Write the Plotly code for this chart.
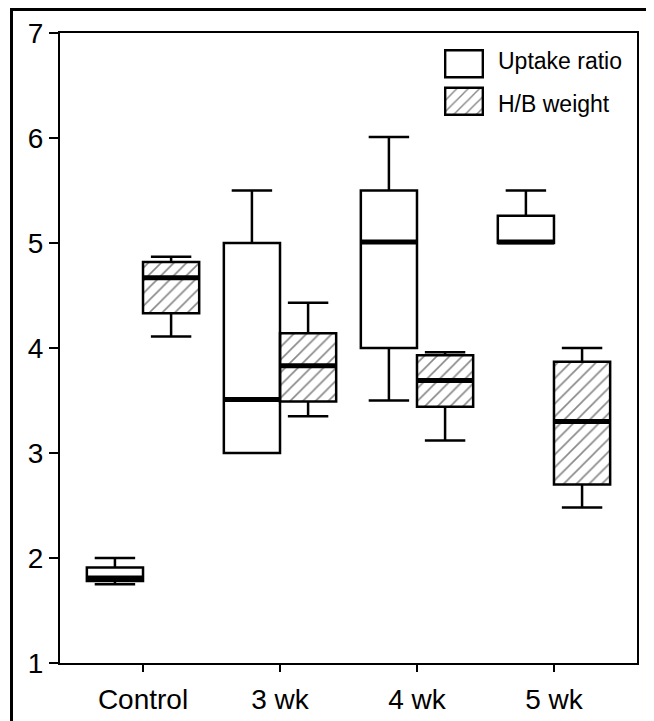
import plotly.graph_objects as go

# ---- data ----
categories = ["Control", "3 wk", "4 wk", "5 wk"]
series_names = ["Uptake ratio", "H/B weight"]

uptake_low = [1.75, 3.00, 3.50, 5.00]
uptake_q1 = [1.78, 3.00, 4.00, 5.00]
uptake_med = [1.81, 3.51, 5.01, 5.01]
uptake_q3 = [1.91, 5.00, 5.50, 5.26]
uptake_high = [2.00, 5.50, 6.01, 5.50]

hb_low = [4.11, 3.35, 3.12, 2.48]
hb_q1 = [4.33, 3.49, 3.44, 2.70]
hb_med = [4.67, 3.83, 3.69, 3.30]
hb_q3 = [4.82, 4.14, 3.93, 3.87]
hb_high = [4.87, 4.43, 3.96, 4.00]

y_ticks = [1, 2, 3, 4, 5, 6, 7]

# ---- layout constants (page has an 8px body margin) ----
PAGE_OFF = 8
W, H = 654 - PAGE_OFF, 721 - PAGE_OFF
ML, MT = 60 - PAGE_OFF, 33 - PAGE_OFF
MR = 17
MB = 58
BOXW = 0.41
OFF = BOXW / 2
FONT = "Liberation Sans, Arial, sans-serif"

idx = list(range(len(categories)))
x_up = [i - OFF for i in idx]
x_hb = [i + OFF for i in idx]

fig = go.Figure()

# hatched fill for H/B boxes (bars from q1 to q3)
fig.add_trace(go.Bar(
    x=x_hb, y=[b - a for a, b in zip(hb_q1, hb_q3)], base=hb_q1,
    width=BOXW, marker=dict(color="white", line=dict(width=0),
                            pattern=dict(shape="/", fgcolor="#111", size=9, solidity=0.18)),
    showlegend=False, hoverinfo="skip"))

box_common = dict(width=BOXW, whiskerwidth=0.72, boxpoints=False,
                  line=dict(color="black", width=2.5), showlegend=False)
fig.add_trace(go.Box(x=x_up, q1=uptake_q1, median=uptake_med, q3=uptake_q3,
                     lowerfence=uptake_low, upperfence=uptake_high,
                     fillcolor="rgba(255,255,255,0)", name=series_names[0], **box_common))
fig.add_trace(go.Box(x=x_hb, q1=hb_q1, median=hb_med, q3=hb_q3,
                     lowerfence=hb_low, upperfence=hb_high,
                     fillcolor="rgba(255,255,255,0)", name=series_names[1], **box_common))

# thick medians
def med_xy(xs, meds):
    mx, my = [], []
    for x, m in zip(xs, meds):
        mx += [x - OFF, x + OFF, None]
        my += [m, m, None]
    return mx, my

for xs, meds in ((x_up, uptake_med), (x_hb, hb_med)):
    mx, my = med_xy(xs, meds)
    fig.add_trace(go.Scatter(x=mx, y=my, mode="lines", line=dict(color="black", width=5),
                             showlegend=False, hoverinfo="skip"))

# page-pixel -> paper helpers
pw, ph = W - ML - MR, H - MT - MB
def px_x(p): return (p - PAGE_OFF - ML) / pw
def px_y(p): return (H - MB - (p - PAGE_OFF)) / ph

# legend swatches on an auxiliary axis pair
fig.add_trace(go.Bar(
    y=series_names, x=[1, 1], orientation="h", xaxis="x2", yaxis="y2",
    width=0.72,
    marker=dict(color="white", line=dict(color="black", width=2.5),
                pattern=dict(shape=["", "/"], fgcolor="#111", size=8, solidity=0.18)),
    showlegend=False, hoverinfo="skip"))

fig.update_layout(
    width=W, height=H,
    margin=dict(l=ML, r=MR, t=MT, b=MB, autoexpand=False),
    paper_bgcolor="white", plot_bgcolor="white",
    showlegend=False, barmode="overlay",
    font=dict(family=FONT, color="black", size=28),
    xaxis=dict(range=[-0.606, 3.606], tickvals=idx, ticktext=categories,
               showgrid=False, zeroline=False, showline=True, linecolor="black",
               linewidth=2, mirror=True, ticks="outside", ticklen=7, tickwidth=2,
               tickcolor="black", tickfont=dict(size=28), ticklabelstandoff=3),
    yaxis=dict(range=[1, 7], tickvals=y_ticks, showgrid=False, zeroline=False,
               showline=True, linecolor="black", linewidth=2, mirror=True,
               ticks="outside", ticklen=9, tickwidth=2, tickcolor="black",
               tickfont=dict(size=28)),
    xaxis2=dict(domain=[px_x(445 - 1), px_x(483 + 1)], range=[-0.03, 1.03], visible=False,
                anchor="y2", fixedrange=True),
    yaxis2=dict(domain=[px_y(117 + 3), px_y(48 - 3)], visible=False, anchor="x2",
                categoryorder="array", categoryarray=series_names[::-1], fixedrange=True),
    bargap=0.28,
)

# legend labels
fig.add_annotation(x=px_x(496), y=px_y(61), xref="paper", yref="paper", text=series_names[0],
                   showarrow=False, xanchor="left", yanchor="middle", font=dict(size=23))
fig.add_annotation(x=px_x(496), y=px_y(104), xref="paper", yref="paper", text=series_names[1],
                   showarrow=False, xanchor="left", yanchor="middle", font=dict(size=23))

# outer frame
fig.add_shape(type="rect", xref="paper", yref="paper",
              x0=px_x(11.5), x1=px_x(648), y0=px_y(740), y1=px_y(9.5),
              line=dict(color="black", width=3), fillcolor="rgba(0,0,0,0)")

fig.write_html("out.html")
